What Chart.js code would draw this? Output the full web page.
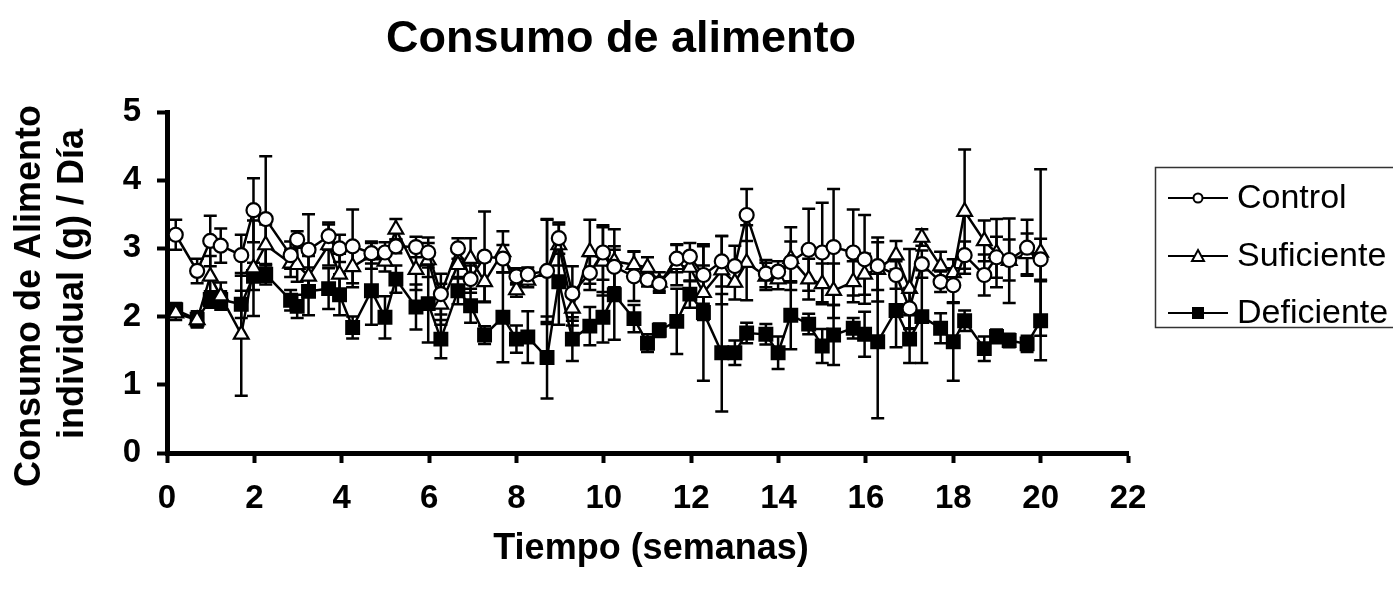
<!DOCTYPE html>
<html>
<head>
<meta charset="utf-8">
<title>Consumo de alimento</title>
<script src="https://cdn.jsdelivr.net/npm/chart.js@4.4.0/dist/chart.umd.min.js"></script>
<style>
  html, body { margin: 0; padding: 0; background: #fff; }
  canvas { display: block; }
</style>
</head>
<body>
<canvas id="chart" width="1393" height="594"></canvas>
<script>
// tiempo en semanas (3 mediciones por semana)
const weeks = [0.2, 0.69, 0.99, 1.23, 1.7, 1.98, 2.26, 2.83, 2.98, 3.24,
  3.7, 3.95, 4.25, 4.68, 4.99, 5.24, 5.7, 5.98, 6.27, 6.66,
  6.95, 7.27, 7.69, 8.0, 8.26, 8.7, 8.97, 9.28, 9.68, 9.98,
  10.24, 10.69, 11.0, 11.27, 11.67, 11.97, 12.28, 12.7, 13.0, 13.27,
  13.71, 13.99, 14.28, 14.69, 15.0, 15.26, 15.71, 15.97, 16.27, 16.69,
  17.0, 17.28, 17.71, 18.0, 18.26, 18.71, 18.99, 19.28, 19.69, 20.0];

const control = [3.20, 2.67, 3.11, 3.04, 2.90, 3.56, 3.43, 2.90, 3.13, 2.98,
  3.18, 3.00, 3.03, 2.93, 2.94, 3.03, 3.02, 2.94, 2.33, 3.00,
  2.55, 2.88, 2.85, 2.59, 2.62, 2.67, 3.15, 2.34, 2.64, 2.94,
  2.73, 2.59, 2.54, 2.48, 2.85, 2.88, 2.61, 2.81, 2.74, 3.49,
  2.63, 2.66, 2.80, 2.98, 2.94, 3.02, 2.94, 2.84, 2.74, 2.61,
  2.12, 2.77, 2.51, 2.46, 2.90, 2.61, 2.87, 2.83, 3.01, 2.84];
const controlErr = [0.22, 0.18, 0.37, 0.25, 0.30, 0.47, 0.92, 0.20, 0.12, 0.52,
  0.20, 0.20, 0.54, 0.15, 0.15, 0.10, 0.15, 0.22, 0.30, 0.15,
  0.20, 0.66, 0.20, 0.12, 0.10, 0.75, 0.23, 0.40, 0.25, 0.40,
  0.30, 0.36, 0.10, 0.10, 0.20, 0.20, 0.42, 0.37, 0.30, 0.38,
  0.20, 0.15, 0.30, 0.60, 0.73, 0.85, 0.63, 0.65, 0.35, 0.20,
  0.30, 0.20, 0.15, 0.25, 0.20, 0.30, 0.30, 0.30, 0.41, 0.30];

const suficiente = [2.05, 1.95, 2.59, 2.30, 1.74, 2.71, 3.05, 2.78, 2.76, 2.59,
  3.05, 2.62, 2.73, 2.90, 2.81, 3.28, 2.69, 2.83, 2.18, 2.76,
  2.85, 2.51, 2.95, 2.39, 2.53, 2.66, 3.05, 2.12, 2.95, 2.81,
  2.81, 2.76, 2.72, 2.50, 2.76, 2.72, 2.35, 2.68, 2.50, 2.79,
  2.59, 2.55, 2.85, 2.55, 2.48, 2.38, 2.51, 2.62, 2.69, 2.90,
  2.41, 3.16, 2.74, 2.64, 3.54, 3.11, 2.93, 2.82, 2.92, 2.94];
const suficienteErr = [0.10, 0.10, 0.30, 0.20, 0.90, 0.70, 0.30, 0.20, 0.25, 0.30,
  0.30, 0.30, 0.30, 0.20, 0.15, 0.15, 0.30, 0.25, 0.30, 0.20,
  0.30, 0.30, 0.30, 0.10, 0.10, 0.77, 0.30, 0.25, 0.47, 0.50,
  0.47, 0.20, 0.15, 0.15, 0.30, 0.20, 0.40, 0.50, 0.25, 0.55,
  0.20, 0.15, 0.46, 0.30, 0.30, 0.40, 0.30, 0.30, 0.47, 0.21,
  0.58, 0.12, 0.21, 0.20, 0.91, 0.30, 0.50, 0.62, 0.30, 1.22];

const deficiente = [2.10, 1.96, 2.25, 2.25, 2.18, 2.59, 2.62, 2.24, 2.15, 2.37,
  2.41, 2.32, 1.84, 2.38, 1.99, 2.55, 2.14, 2.19, 1.67, 2.38,
  2.16, 1.73, 1.99, 1.67, 1.70, 1.40, 2.51, 1.67, 1.86, 1.99,
  2.32, 1.97, 1.61, 1.80, 1.93, 2.33, 2.06, 1.47, 1.47, 1.76,
  1.74, 1.47, 2.02, 1.89, 1.57, 1.73, 1.83, 1.74, 1.63, 2.09,
  1.67, 2.00, 1.83, 1.63, 1.94, 1.53, 1.71, 1.65, 1.60, 1.94];
const deficienteErr = [0.10, 0.12, 0.12, 0.12, 0.20, 0.20, 0.15, 0.15, 0.17, 0.35,
  0.30, 0.30, 0.16, 0.50, 0.31, 0.20, 0.33, 0.57, 0.28, 0.20,
  0.25, 0.13, 0.66, 0.20, 0.38, 0.60, 0.63, 0.32, 0.28, 0.37,
  0.66, 0.20, 0.13, 0.10, 0.48, 0.20, 1.00, 0.86, 0.18, 0.15,
  0.15, 0.24, 0.50, 0.15, 0.25, 0.44, 0.15, 0.33, 1.12, 0.54,
  0.35, 0.68, 0.22, 0.57, 0.15, 0.18, 0.10, 0.10, 0.12, 0.58];

const FONT = '"Liberation Sans", Arial, sans-serif';

function series(label, vals, err, style, radius, fill) {
  return {
    label, err,
    data: weeks.map((w, i) => ({ x: w, y: vals[i] })),
    showLine: true, borderColor: '#000', borderWidth: 2.5,
    pointStyle: style, pointRadius: radius,
    pointBackgroundColor: fill, pointBorderColor: '#000', pointBorderWidth: 2.2
  };
}

// barras de error (media +/- EE), debajo de los marcadores
const errorBars = {
  id: 'errorBars',
  beforeDatasetsDraw(chart) {
    const { ctx, scales: { x, y } } = chart;
    ctx.save();
    ctx.strokeStyle = '#000';
    ctx.lineWidth = 2.5;
    chart.data.datasets.forEach(ds => {
      ds.data.forEach((p, i) => {
        const e = ds.err[i];
        const px = x.getPixelForValue(p.x);
        const top = y.getPixelForValue(p.y + e), bot = y.getPixelForValue(p.y - e);
        ctx.beginPath();
        ctx.moveTo(px, top); ctx.lineTo(px, bot);
        ctx.moveTo(px - 6.5, top); ctx.lineTo(px + 6.5, top);
        ctx.moveTo(px - 6.5, bot); ctx.lineTo(px + 6.5, bot);
        ctx.stroke();
      });
    });
    ctx.restore();
  }
};

function marker(ctx, style, x, y) {
  ctx.beginPath();
  if (style === 'circle') {
    ctx.arc(x, y, 4.5, 0, Math.PI * 2);
    ctx.fillStyle = '#fff';
  } else if (style === 'triangle') {
    ctx.moveTo(x, y - 6); ctx.lineTo(x + 6, y + 5); ctx.lineTo(x - 6, y + 5); ctx.closePath();
    ctx.fillStyle = '#fff';
  } else {
    ctx.rect(x - 5, y - 5, 10, 10);
    ctx.fillStyle = '#000';
  }
  ctx.fill(); ctx.stroke();
}

// titulo, titulos de ejes y leyenda
const labels = {
  id: 'labels',
  afterDraw(chart) {
    const ctx = chart.ctx;
    ctx.save();
    ctx.fillStyle = '#000';
    ctx.textAlign = 'center';
    ctx.textBaseline = 'middle';
    ctx.font = 'bold 45px ' + FONT;
    ctx.fillText('Consumo de alimento', 621, 40);
    ctx.font = 'bold 36px ' + FONT;
    ctx.fillText('Tiempo (semanas)', 651, 549);
    ctx.save();
    ctx.translate(30, 296); ctx.rotate(-Math.PI / 2);
    ctx.fillText('Consumo de Alimento', 0, 0);
    ctx.restore();
    ctx.save();
    ctx.translate(73, 284); ctx.rotate(-Math.PI / 2);
    ctx.fillText('individual (g) / Día', 0, 0);
    ctx.restore();

    ctx.strokeStyle = '#333'; ctx.lineWidth = 1.5;
    ctx.strokeRect(1155.5, 167.5, 300, 160);
    const rows = [['Control', 'circle', 198], ['Suficiente', 'triangle', 256], ['Deficiente', 'rect', 313]];
    ctx.font = '34px ' + FONT;
    ctx.textAlign = 'left';
    rows.forEach(([name, style, ry]) => {
      ctx.strokeStyle = '#000'; ctx.lineWidth = 2;
      ctx.beginPath(); ctx.moveTo(1168, ry); ctx.lineTo(1228, ry); ctx.stroke();
      marker(ctx, style, 1198, ry);
      ctx.fillStyle = '#000';
      ctx.fillText(name, 1237, ry + 1);
    });
    ctx.restore();
  }
};

const axisCommon = {
  grid: { drawOnChartArea: false, drawTicks: true, tickLength: 10, tickWidth: 4, color: '#000' },
  border: { color: '#000', width: 5 },
  ticks: { color: '#000', font: { family: FONT, size: 33, weight: 'bold' } }
};

new Chart(document.getElementById('chart'), {
  type: 'scatter',
  data: {
    datasets: [
      series('Control', control, controlErr, 'circle', 7, '#fff'),
      series('Suficiente', suficiente, suficienteErr, 'triangle', 8.5, '#fff'),
      series('Deficiente', deficiente, deficienteErr, 'rect', 9, '#000')
    ]
  },
  options: {
    responsive: false,
    animation: false,
    layout: { padding: { left: 0, top: 112, right: 265, bottom: 0 } },
    plugins: { legend: { display: false }, title: { display: false }, tooltip: { enabled: false } },
    scales: {
      x: {
        ...axisCommon, type: 'linear', min: 0, max: 22,
        ticks: { ...axisCommon.ticks, stepSize: 2, padding: 16, maxRotation: 0 },
        afterFit: s => { s.height = 141; }
      },
      y: {
        ...axisCommon, min: 0, max: 5,
        ticks: { ...axisCommon.ticks, stepSize: 1, padding: 16 },
        afterFit: s => { s.width = 167; }
      }
    }
  },
  plugins: [errorBars, labels]
});
</script>
</body>
</html>
